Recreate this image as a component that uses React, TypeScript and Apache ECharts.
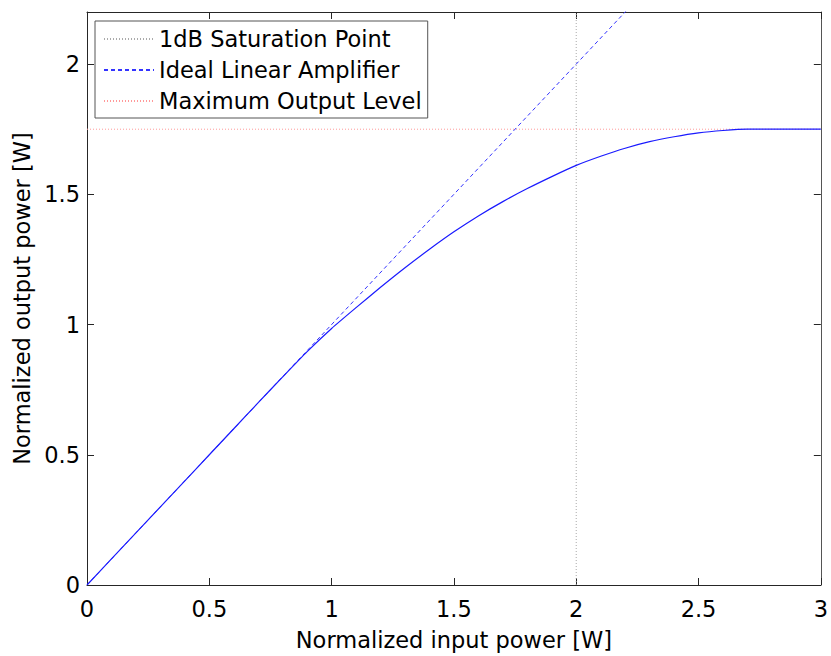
import React, { useEffect, useRef } from "react";
import * as echarts from "echarts";

// Normalized input power [W] (x) and amplifier output [W] (y)
const inputPower = [0, 0.1, 0.2, 0.3, 0.4, 0.5, 0.6, 0.7, 0.8, 0.9, 1.0, 1.1, 1.2, 1.3, 1.4, 1.5, 1.6, 1.7, 1.8, 1.9, 2.0, 2.1, 2.2, 2.3, 2.4, 2.5, 2.6, 2.7, 2.8, 2.9, 3.0];
const outputPower = [0, 0.1, 0.2, 0.3, 0.4, 0.5, 0.6, 0.7, 0.799, 0.896, 0.985, 1.065, 1.143, 1.218, 1.289, 1.356, 1.417, 1.472, 1.522, 1.568, 1.611, 1.646, 1.677, 1.702, 1.721, 1.736, 1.745, 1.75, 1.75, 1.75, 1.75];

// Reference lines
const saturationX = [2, 2];
const saturationY = [0, 2.2];
const idealX = [0, 3];
const idealY = [0, 3];
const maxLevelX = [0, 3];
const maxLevelY = [1.75, 1.75];

const legendNames = ["1dB Saturation Point", "Ideal Linear Amplifier", "Maximum Output Level"];
const xTitle = "Normalized input power [W]";
const yTitle = "Normalized output power [W]";

const zip = (a: number[], b: number[]) => a.map((v, i) => [v, b[i]]);

const FONT = "DejaVu Sans";
const FS = 22.5;
const AXIS = "#262626";

export default function App() {
  const ref = useRef<HTMLDivElement>(null);
  useEffect(() => {
    document.body.style.margin = "0";
    if (!ref.current) return;
    const chart = echarts.init(ref.current, undefined, { renderer: "svg" });
    const tickStyle = { show: true, inside: true, length: 7, lineStyle: { color: AXIS, width: 1 } };
    chart.setOption({
      animation: false,
      backgroundColor: "#ffffff",
      textStyle: { fontFamily: FONT },
      grid: { left: 87, right: 8, top: 12, bottom: 63, containLabel: false },
      legend: {
        data: legendNames,
        orient: "vertical",
        left: 95,
        top: 21,
        itemWidth: 50,
        itemHeight: 14,
        itemGap: 5,
        padding: [5, 6, 4, 8],
        backgroundColor: "#ffffff",
        borderColor: "#555555",
        borderWidth: 1,
        borderRadius: 0,
        itemStyle: { opacity: 0, borderWidth: 0 },
        textStyle: { fontFamily: FONT, fontSize: FS, color: "#000", lineHeight: 26 },
      },
      xAxis: [
        {
          type: "value",
          min: 0,
          max: 3,
          interval: 0.5,
          position: "bottom",
          name: xTitle,
          nameLocation: "middle",
          nameGap: 43,
          nameTextStyle: { fontFamily: FONT, fontSize: FS, color: "#000" },
          axisLine: { show: true, onZero: false, lineStyle: { color: AXIS, width: 1 } },
          axisTick: tickStyle,
          axisLabel: { fontFamily: FONT, fontSize: FS, color: "#000", margin: 12 },
          splitLine: { show: false },
        },
        {
          type: "value",
          min: 0,
          max: 3,
          interval: 0.5,
          position: "top",
          axisLine: { show: true, onZero: false, lineStyle: { color: AXIS, width: 1 } },
          axisTick: tickStyle,
          axisLabel: { show: false },
          splitLine: { show: false },
        },
      ],
      yAxis: [
        {
          type: "value",
          min: 0,
          max: 2.2,
          interval: 0.5,
          position: "left",
          name: yTitle,
          nameLocation: "middle",
          nameGap: 54,
          nameTextStyle: { fontFamily: FONT, fontSize: FS, color: "#000" },
          axisLine: { show: true, onZero: false, lineStyle: { color: AXIS, width: 1 } },
          axisTick: tickStyle,
          axisLabel: { fontFamily: FONT, fontSize: FS, color: "#000", margin: 7, showMaxLabel: false },
          splitLine: { show: false },
        },
        {
          type: "value",
          min: 0,
          max: 2.2,
          interval: 0.5,
          position: "right",
          axisLine: { show: true, onZero: false, lineStyle: { color: "#555", width: 1 } },
          axisTick: tickStyle,
          axisLabel: { show: false },
          splitLine: { show: false },
        },
      ],
      series: [
        {
          name: legendNames[0],
          type: "line",
          data: zip(saturationX, saturationY),
          symbol: "none",
          lineStyle: { color: "#aaaaaa", width: 1, type: [1, 2] },
          itemStyle: { color: "#aaaaaa" },
          z: 2,
        },
        {
          name: legendNames[1],
          type: "line",
          data: zip(idealX, idealY),
          symbol: "none",
          clip: true,
          lineStyle: { color: "#3333ff", width: 1, type: [4, 3] },
          itemStyle: { color: "#3333ff" },
          z: 3,
        },
        {
          name: legendNames[2],
          type: "line",
          data: zip(maxLevelX, maxLevelY),
          symbol: "none",
          lineStyle: { color: "#ff9999", width: 1, type: [1, 2] },
          itemStyle: { color: "#ff9999" },
          z: 2,
        },
        {
          name: "Amplifier Output",
          type: "line",
          data: zip(inputPower, outputPower),
          symbol: "none",
          smooth: 0.2,
          lineStyle: { color: "#1a1aff", width: 1.2 },
          itemStyle: { color: "#1a1aff" },
          z: 4,
        },
      ],
    });
    return () => chart.dispose();
  }, []);
  return <div ref={ref} style={{ width: 831, height: 656 }} />;
}
